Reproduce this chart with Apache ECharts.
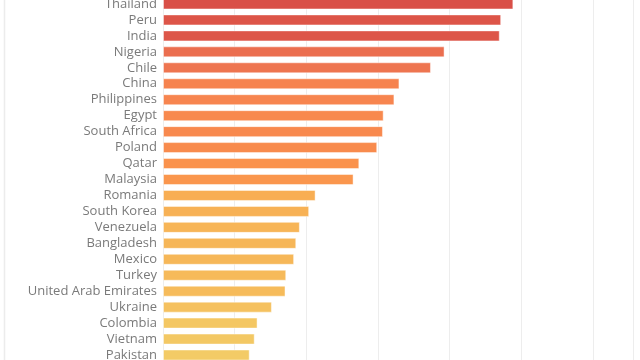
<!DOCTYPE html>
<html>
<head>
<meta charset="utf-8">
<style>html,body{margin:0;padding:0;background:#fff;overflow:hidden;width:640px;height:360px}#c{position:absolute;left:0;top:-4px;width:640px;height:367px}</style>
<script src="https://cdn.jsdelivr.net/npm/echarts@6/dist/echarts.min.js"></script>
</head>
<body>
<div id="c"></div>
<script>
const countries = ["Thailand","Peru","India","Nigeria","Chile","China","Philippines","Egypt","South Africa","Poland","Qatar","Malaysia","Romania","South Korea","Venezuela","Bangladesh","Mexico","Turkey","United Arab Emirates","Ukraine","Colombia","Vietnam","Pakistan"];
const values = [48.9,47.2,47.0,39.3,37.4,33.0,32.3,30.8,30.7,29.9,27.4,26.6,21.3,20.4,19.1,18.6,18.3,17.2,17.1,15.2,13.2,12.8,12.1];
const colorStops = ['#f3cb66','#f6ba5a','#f8aa51','#fa904c','#f6834f','#ec7150','#e4614b','#d94f47'];

const chart = echarts.init(document.getElementById('c'), null, {renderer:'canvas'});
chart.setOption({
  animation:false,
  backgroundColor:'#ffffff',
  grid:{left:163,right:7,top:0,bottom:0,containLabel:false},
  xAxis:{type:'value',min:0,max:65.6,interval:10,
    axisLabel:{show:false},axisLine:{show:false},axisTick:{show:false},
    splitLine:{show:true,lineStyle:{color:'#ededed',width:1}}},
  yAxis:{type:'category',data:countries,inverse:true,
    axisLine:{show:false},axisTick:{show:false},
    axisLabel:{interval:0,color:'#7a7a7a',fontSize:13,fontFamily:'Open Sans',margin:6}},
  visualMap:{show:false,type:'continuous',min:12,max:49,dimension:0,
    inRange:{color:colorStops}},
  graphic:[{type:'line',shape:{x1:4.5,y1:0,x2:4.5,y2:367},style:{stroke:'#ececec',lineWidth:1.5}}],
  series:[{type:'bar',data:values,barWidth:11,
    itemStyle:{borderColor:'rgba(255,255,255,0.45)',borderWidth:1}}]
});
</script>
</body>
</html>
